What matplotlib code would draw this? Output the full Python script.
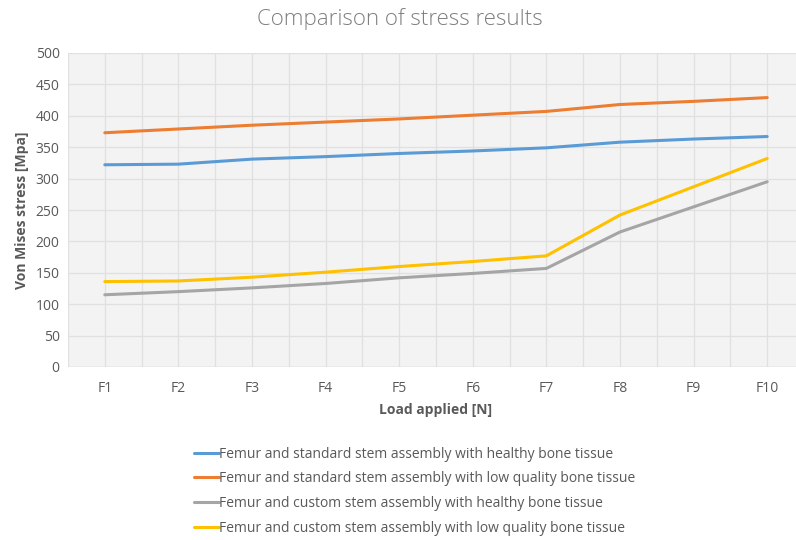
import matplotlib
matplotlib.use("Agg")
import matplotlib.pyplot as plt
import numpy as np

categories = ["F1", "F2", "F3", "F4", "F5", "F6", "F7", "F8", "F9", "F10"]
std_healthy = [322, 323, 331, 335, 340, 344, 349, 358, 363, 367]
std_lowq = [373, 379, 385, 390, 395, 401, 407, 418, 423, 429]
cus_healthy = [115, 120, 126, 133, 142, 149, 157, 215, 255, 295]
cus_lowq = [136, 137, 143, 151, 160, 168, 177, 242, 287, 332]
labels = [
    "Femur and standard stem assembly with healthy bone tissue",
    "Femur and standard stem assembly with low quality bone tissue",
    "Femur and custom stem assembly with healthy bone tissue",
    "Femur and custom stem assembly with low quality bone tissue",
]
colors = ["#5b9bd5", "#ed7d31", "#a5a5a5", "#ffc000"]
series = [std_healthy, std_lowq, cus_healthy, cus_lowq]

plt.rcParams['font.family'] = ['Open Sans', 'DejaVu Sans']

W, H = 796, 540
fig = plt.figure(figsize=(W / 100, H / 100), dpi=100)
ax = fig.add_axes([68 / W, (H - 367) / H, (804 - 68) / W, 314 / H])

ax.set_facecolor("#f3f3f3")
x = np.arange(len(categories))
handles = []
for vals, c, lab in zip(series, colors, labels):
    h, = ax.plot(x, vals, color=c, lw=2.2, label=lab, solid_capstyle="round", zorder=3)
    handles.append(h)

ax.set_xlim(-0.5, len(categories) - 0.5)
ax.set_ylim(0, 500)
ax.set_yticks(np.arange(0, 501, 50))
ax.set_xticks(x)
ax.set_xticklabels(categories)
ax.set_xticks(np.arange(-0.5, len(categories), 1.0), minor=True)
ax.grid(True, which="major", color="#e0e0e0", lw=0.9, zorder=1)
ax.grid(True, which="minor", axis="x", color="#e0e0e0", lw=0.9, zorder=1)
for s in ax.spines.values():
    s.set_visible(False)
ax.axhline(0, color="#d4d4d4", lw=1.0, zorder=2)
ax.tick_params(axis="both", which="both", length=0, colors="#595959", labelsize=10)
ax.tick_params(axis="x", pad=10)
ax.tick_params(axis="y", pad=6)

ax.set_xlabel("Load applied [N]", fontsize=10, fontweight="bold", color="#595959", labelpad=5)
ax.set_ylabel("Von Mises stress [Mpa]", fontsize=10, fontweight="bold", color="#595959", labelpad=5)

fig.text(400 / W, 1 - 19 / H, "Comparison of stress results", ha="center", va="center",
         fontsize=16, color="#7f7f7f", fontweight="light")

leg = fig.legend(handles=handles, labels=labels, loc="upper left",
                 bbox_to_anchor=(188 / W, 1 - 441 / H), frameon=False,
                 fontsize=10, handlelength=1.85, handletextpad=0.0,
                 labelspacing=0.7, borderaxespad=0)
for t in leg.get_texts():
    t.set_color("#595959")

fig.savefig("out.png", dpi=100)
